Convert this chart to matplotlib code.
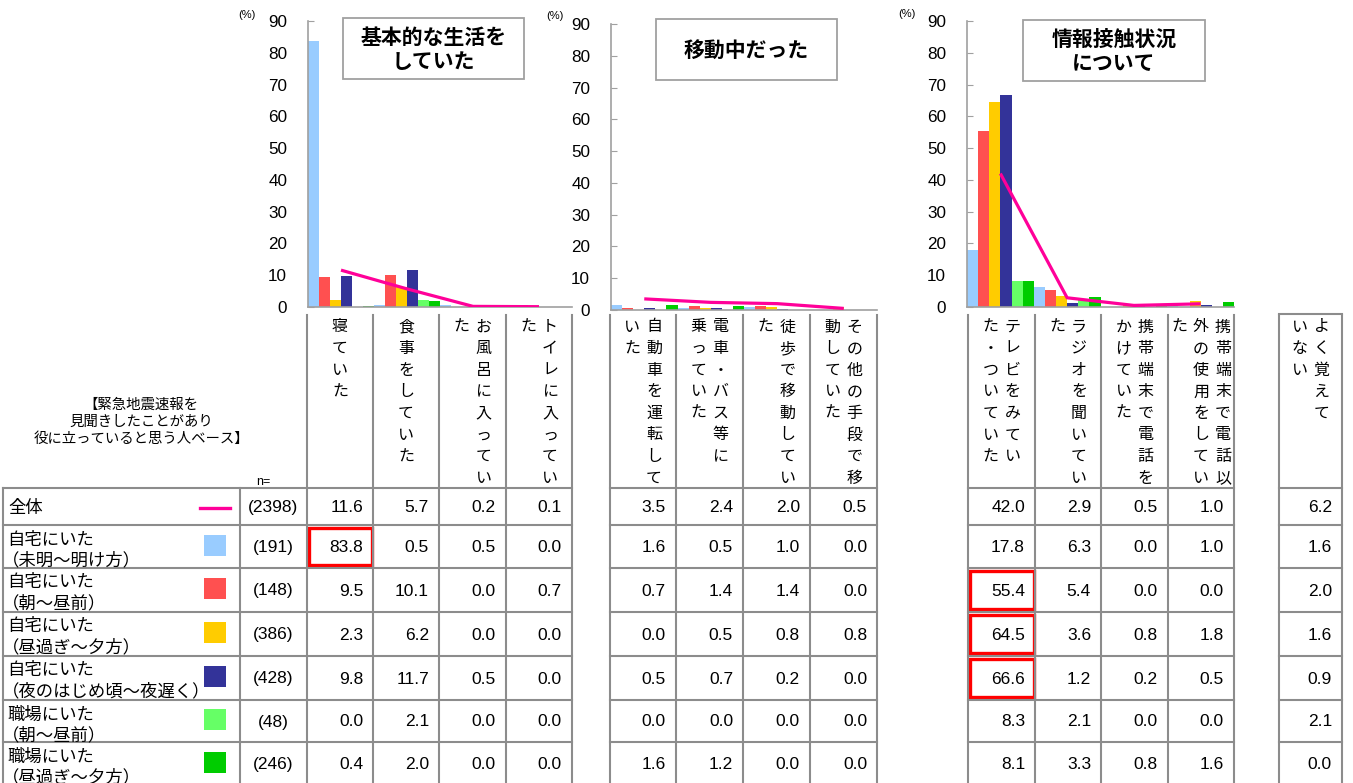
import matplotlib
matplotlib.use("Agg")
import matplotlib.pyplot as plt
from matplotlib.patches import Rectangle

plt.rcParams['font.family'] = ['Liberation Sans', 'Noto Sans CJK JP', 'DejaVu Sans']
JP = ['Noto Sans CJK JP', 'DejaVu Sans']

# ---------------- data ----------------
panel_titles = ['基本的な生活を\nしていた', '移動中だった', '情報接触状況\nについて']
categories_p1 = ['寝ていた', '食事をしていた', 'お風呂に入ってい\nた', 'トイレに入ってい\nた']
categories_p2 = ['自動車を運転して\nいた', '電車・バス等に\n乗っていた', '徒歩で移動してい\nた', 'その他の手段で移\n動していた']
categories_p3 = ['テレビをみてい\nた・ついていた', 'ラジオを聞いてい\nた', '携帯端末で電話を\nかけていた', '携帯端末で電話以\n外の使用をしてい\nた']
category_extra = ['よく覚えて\nいない']

row_labels = ['全体', '自宅にいた\n（未明～明け方）', '自宅にいた\n（朝～昼前）', '自宅にいた\n（昼過ぎ～夕方）',
              '自宅にいた\n（夜のはじめ頃～夜遅く）', '職場にいた\n（朝～昼前）', '職場にいた\n（昼過ぎ～夕方）']
n_values = [2398, 191, 148, 386, 428, 48, 246]

# values per row over the 13 columns (p1 x4, p2 x4, p3 x4, よく覚えていない)
zentai           = [11.6, 5.7, 0.2, 0.1, 3.5, 2.4, 2.0, 0.5, 42.0, 2.9, 0.5, 1.0, 6.2]
jitaku_dawn      = [83.8, 0.5, 0.5, 0.0, 1.6, 0.5, 1.0, 0.0, 17.8, 6.3, 0.0, 1.0, 1.6]
jitaku_morning   = [9.5, 10.1, 0.0, 0.7, 0.7, 1.4, 1.4, 0.0, 55.4, 5.4, 0.0, 0.0, 2.0]
jitaku_afternoon = [2.3, 6.2, 0.0, 0.0, 0.0, 0.5, 0.8, 0.8, 64.5, 3.6, 0.8, 1.8, 1.6]
jitaku_night     = [9.8, 11.7, 0.5, 0.0, 0.5, 0.7, 0.2, 0.0, 66.6, 1.2, 0.2, 0.5, 0.9]
work_morning     = [0.0, 2.1, 0.0, 0.0, 0.0, 0.0, 0.0, 0.0, 8.3, 2.1, 0.0, 0.0, 2.1]
work_afternoon   = [0.4, 2.0, 0.0, 0.0, 1.6, 1.2, 0.0, 0.0, 8.1, 3.3, 0.8, 1.6, 0.0]

yticks = [0, 10, 20, 30, 40, 50, 60, 70, 80, 90]

# ---------------- style ----------------
bar_series = [jitaku_dawn, jitaku_morning, jitaku_afternoon, jitaku_night, work_morning, work_afternoon]
bar_colors = ['#99CCFF', '#FF5050', '#FFCC00', '#333399', '#66FF66', '#00CC00']
line_color = '#FF0099'
grid_c = '#8C8C8C'

W, H = 1353, 783
fig = plt.figure(figsize=(W / 100, H / 100), dpi=100)

# panel geometry in pixels: x_left, x_right, y_of_0, y_of_90
panel_geo = [(308, 572, 307, 21), (611, 877, 310, 24), (967, 1234, 307, 21)]
pct_pos = [(247, 15), (555, 16), (907, 14)]
title_boxes = [(343, 18, 524, 79), (656, 19, 837, 80), (1023, 20, 1205, 81)]

for p, (x0, x1, y0, y1) in enumerate(panel_geo):
    ax = fig.add_axes([x0 / W, 1 - y0 / H, (x1 - x0) / W, (y0 - y1) / H])
    for j, (ser, col) in enumerate(zip(bar_series, bar_colors)):
        vals = ser[4 * p:4 * p + 4]
        ax.bar([i + j / 6 for i in range(4)], vals, width=1 / 6, align='edge', color=col, linewidth=0, zorder=2)
    ax.plot([i + 0.5 for i in range(4)], zentai[4 * p:4 * p + 4], color=line_color, lw=2.3, zorder=3,
            solid_capstyle='butt')
    ax.set_xlim(0, 4)
    ax.set_ylim(0, 90)
    ax.set_yticks(yticks)
    ax.set_xticks([])
    for s in ['top', 'right']:
        ax.spines[s].set_visible(False)
    for s in ['left', 'bottom']:
        ax.spines[s].set_color('#A0A0A0')
        ax.spines[s].set_linewidth(1.2)
    ax.tick_params(axis='y', direction='in', length=4, color='#A0A0A0', pad=15, labelsize=12.3)
    ax.patch.set_alpha(0)

# overlay for table and texts
ov = fig.add_axes([0, 0, 1, 1], zorder=10)
ov.set_xlim(0, W)
ov.set_ylim(H, 0)
ov.axis('off')

for (px, py) in pct_pos:
    ov.text(px, py, '(%)', fontsize=8, ha='center', va='center')

for (bx0, by0, bx1, by1), t in zip(title_boxes, panel_titles):
    ov.add_patch(Rectangle((bx0, by0), bx1 - bx0, by1 - by0, fc='white', ec='#A0A0A0', lw=1.3))
    ov.text((bx0 + bx1) / 2, (by0 + by1) / 2 + 1, t, fontsize=15, fontweight='bold', family=JP,
            ha='center', va='center', linespacing=1.2)

# table geometry
blocks = [[3, 240, 307, 373, 439, 506, 572], [610, 676, 743, 810, 877],
          [968, 1035, 1101, 1168, 1234], [1279, 1342]]
row_edges = [488, 525, 568, 612, 656, 700, 742, 800]
head_top = 315
lw_grid = 1.5

# column cell positions for the 13 value columns
value_cells = []
for b in blocks[0][2:], blocks[1], blocks[2], blocks[3]:
    for k in range(len(b) - 1):
        value_cells.append((b[k], b[k + 1]))

# grid lines
for bi, b in enumerate(blocks):
    for y in row_edges[:-1]:
        ov.plot([b[0], b[-1]], [y, y], color=grid_c, lw=lw_grid, solid_capstyle='projecting')
    for k, x in enumerate(b):
        top = row_edges[0]
        if bi > 0 or k >= 2:
            top = head_top
        ov.plot([x, x], [top, H + 5], color=grid_c, lw=lw_grid)
ov.plot([blocks[3][0], blocks[3][1]], [head_top - 1, head_top - 1], color=grid_c, lw=lw_grid,
        solid_capstyle='projecting')

# vertical header labels
all_cats = categories_p1 + categories_p2 + categories_p3 + category_extra
char_step = 21.6
col_step = 22
for (cx0, cx1), lab in zip(value_cells, all_cats):
    cols = lab.split('\n')
    ncol = len(cols)
    cxm = (cx0 + cx1) / 2
    for ci, s in enumerate(cols):
        x = cxm + (ncol - 1) / 2 * col_step - ci * col_step
        for k, ch in enumerate(s):
            ov.text(x, 327 + k * char_step, ch, fontsize=11.5, family=JP, ha='center', va='center')

# left header
ov.text(141, 422, '【緊急地震速報を\n見聞きしたことがあり\n役に立っていると思う人ベース】', fontsize=10.4,
        family=JP, ha='center', va='center', linespacing=1.25)
ov.text(263, 482, 'n=', fontsize=9, ha='center', va='center')

# rows
for r, lab in enumerate(row_labels):
    top, bot = row_edges[r], row_edges[r + 1]
    if r == len(row_labels) - 1:
        bot = top + 43
    yc = (top + bot) / 2
    lines = lab.split('\n')
    if len(lines) == 1:
        ov.text(8, yc + 1, lines[0], fontsize=12.5, family=JP, ha='left', va='center')
    else:
        ov.text(7, top + 14.5, lines[0], fontsize=12.5, family=JP, ha='left', va='center')
        ov.text(2, top + 35, lines[1], fontsize=12.5, family=JP, ha='left', va='center')
    if r == 0:
        ov.plot([200, 230], [yc + 1, yc + 1], color=line_color, lw=2.4)
    else:
        ov.add_patch(Rectangle((204, yc - 12), 22, 21, fc=bar_colors[r - 1], ec='none'))
    ov.text(273, yc + 1, f'({n_values[r]})', fontsize=12.5, ha='center', va='center')
    row_vals = [zentai, jitaku_dawn, jitaku_morning, jitaku_afternoon, jitaku_night,
                work_morning, work_afternoon][r]
    for (cx0, cx1), v in zip(value_cells, row_vals):
        ov.text(cx1 - 10, yc + 1, f'{v:.1f}', fontsize=12.5, ha='right', va='center')

# highlight boxes (83.8 and TV 55.4 / 64.5 / 66.6)
hl = [(0, 1), (8, 2), (8, 3), (8, 4)]
for c, r in hl:
    cx0, cx1 = value_cells[c]
    top, bot = row_edges[r], row_edges[r + 1]
    ov.add_patch(Rectangle((cx0 + 1.5, top + 3), cx1 - cx0 - 3, bot - top - 6, fc='none', ec='#FF0000', lw=2.4))

fig.savefig('out.png', dpi=100)
